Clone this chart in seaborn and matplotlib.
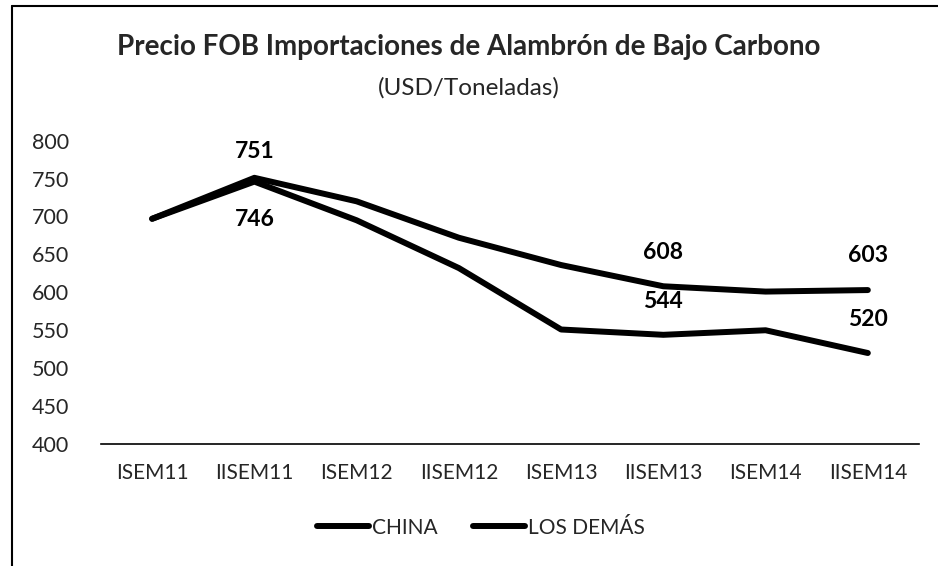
import matplotlib
matplotlib.use("Agg")
import matplotlib.pyplot as plt
import seaborn as sns
import pandas as pd
from matplotlib.lines import Line2D

categories = ["ISEM11", "IISEM11", "ISEM12", "IISEM12", "ISEM13", "IISEM13", "ISEM14", "IISEM14"]
china = [697, 746, 695, 632, 551, 544, 550, 520]
los_demas = [697, 751, 720, 672, 636, 608, 601, 603]
series_names = ["CHINA", "LOS DEMÁS"]
yticks = [400, 450, 500, 550, 600, 650, 700, 750, 800]

# labels: (series, category index, text, offset in points)
labels = [
    ("LOS DEMÁS", 1, "751", 19),
    ("CHINA", 1, "746", -27),
    ("LOS DEMÁS", 5, "608", 24),
    ("CHINA", 5, "544", 24),
    ("LOS DEMÁS", 7, "603", 25),
    ("CHINA", 7, "520", 24),
]

sns.set_theme(style="white")
plt.rcParams["font.family"] = ["Lato", "DejaVu Sans"]

df = pd.DataFrame({
    "cat": categories * 2,
    "x": list(range(len(categories))) * 2,
    "value": china + los_demas,
    "serie": [series_names[0]] * len(categories) + [series_names[1]] * len(categories),
})

fig = plt.figure(figsize=(9.38, 5.66), dpi=100)
ax = fig.add_axes([0.1077, 0.2155, 0.872, 0.536])

sns.lineplot(data=df, x="x", y="value", hue="serie", palette=["black", "black"],
             linewidth=4.3, ax=ax, legend=False, sort=False)
for l in ax.get_lines():
    l.set_solid_capstyle("round")
    l.set_solid_joinstyle("round")

ax.set_xlim(-0.5, len(categories) - 0.5)
ax.set_ylim(400, 800)
ax.set_yticks(yticks)
ax.set_yticklabels([str(v) for v in yticks], fontsize=15.5)
ax.set_xticks(range(len(categories)))
ax.set_xticklabels(categories, fontsize=15)
ax.tick_params(axis="x", length=0, pad=14)
ax.tick_params(axis="y", length=0, pad=50)
for lab in ax.get_yticklabels():
    lab.set_horizontalalignment("left")
ax.set_xlabel("")
ax.set_ylabel("")
for s in ["top", "right", "left"]:
    ax.spines[s].set_visible(False)
ax.spines["bottom"].set_color("black")
ax.spines["bottom"].set_linewidth(1.2)

data_map = {"CHINA": china, "LOS DEMÁS": los_demas}
for serie, idx, txt, off in labels:
    ax.annotate(txt, (idx, data_map[serie][idx]), xytext=(0, off), textcoords="offset points",
                ha="center", va="center", fontsize=16.5, fontweight="bold", color="black")

fig.text(0.5, 0.917, "Precio FOB Importaciones de Alambrón de Bajo Carbono",
         ha="center", va="center", fontsize=20, fontweight="bold")
fig.text(0.5, 0.845, "(USD/Toneladas)", ha="center", va="center", fontsize=17.5)

handles = [Line2D([0], [0], color="black", lw=4.3, solid_capstyle="round") for _ in series_names]
fig.legend(handles, series_names, loc="center", bbox_to_anchor=(0.513, 0.068), ncol=2,
           frameon=False, fontsize=15, handlelength=2.5, handletextpad=0.15, columnspacing=1.7)

# partial page frame (left and top edges)
fig.add_artist(Line2D([0.013, 0.013], [0, 0.99], transform=fig.transFigure, color="black", lw=1.5))
fig.add_artist(Line2D([0.013, 1.0], [0.99, 0.99], transform=fig.transFigure, color="black", lw=1.5))

fig.savefig("out.png", dpi=100, facecolor="white")
